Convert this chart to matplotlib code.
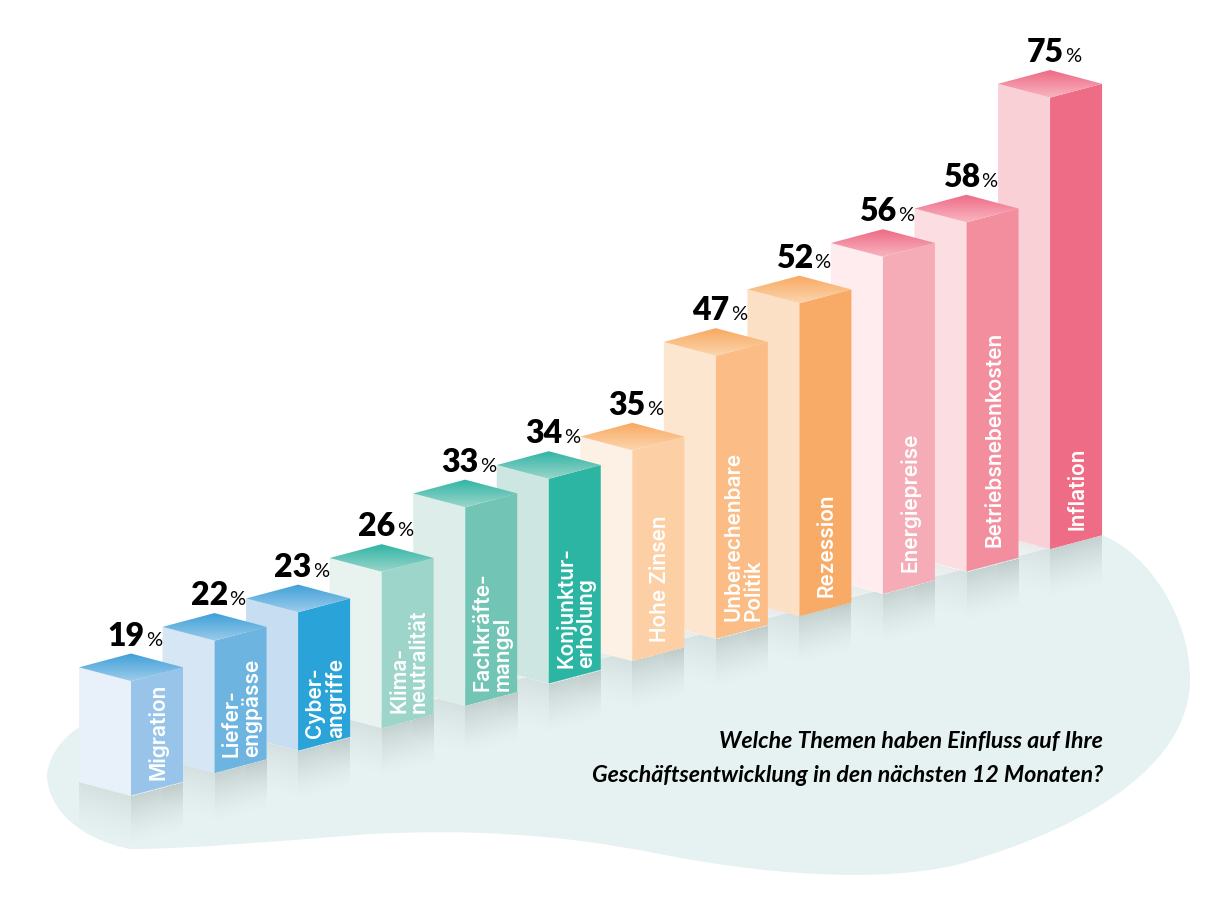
import numpy as np
import matplotlib
matplotlib.use("Agg")
import matplotlib.pyplot as plt
from matplotlib.colors import to_rgb
from matplotlib.patches import PathPatch, Polygon
from matplotlib.path import Path

# chart data, front to back
topics = ["Migration", "Liefer-\nengpässe", "Cyber-\nangriffe", "Klima-\nneutralität",
          "Fachkräfte-\nmangel", "Konjunktur-\nerholung", "Hohe Zinsen",
          "Unberechenbare\nPolitik", "Rezession", "Energiepreise",
          "Betriebsnebenkosten", "Inflation"]
values = [19, 22, 23, 26, 33, 34, 35, 47, 52, 56, 58, 75]
question = ["Welche Themen haben Einfluss auf Ihre",
            "Geschäftsentwicklung in den nächsten 12 Monaten?"]

# colours per bar
left_cols = ["#E8F0FA", "#D6E6F5", "#C6DDF2", "#E8F3F0", "#DDEEEA", "#CDE6E1",
             "#FDF1E6", "#FDE6CF", "#FCE0C6", "#FEECEE", "#FCDDE2", "#FAD0D7"]
right_cols = ["#97C4E8", "#6DB5E0", "#2AA3D9", "#9DD5CB", "#72C4B5", "#2DB5A4",
              "#FCCFA4", "#FBBC85", "#F8AB66", "#F6ACB6", "#F28E9E", "#EE6C85"]
top_dark = ["#3EA0D8"] * 3 + ["#2FB5A5"] * 3 + ["#F8A85F"] * 3 + ["#EE6A85"] * 3
top_light = ["#9CCBEB"] * 3 + ["#9AD5CA"] * 3 + ["#FCD5AE"] * 3 + ["#F8B5C0"] * 3

# layout in pixels
px_per_pct = 6.02
step_x, step_y = 83.55, 22.4
first_x, first_y = 131, 796.5
half_w, depth = 52, 13.8
mirror_len = 50
label_gap = [16, 17, 14, 16, 16, 16, 20, 19, 20, 23, 25, 20]

plt.rcParams["font.family"] = "Lato"

fig = plt.figure(figsize=(12.05, 9.03), dpi=100)
ax = fig.add_axes([0, 0, 1, 1])
ax.axis("off")


def gradient(poly, y0, y1, c0, c1, z=1):
    # vertical colour gradient clipped to a polygon
    t = np.linspace(0, 1, 64)[:, None]
    rgb = np.array(to_rgb(c0)) * (1 - t) + np.array(to_rgb(c1)) * t
    xs = [p[0] for p in poly]
    im = ax.imshow(rgb[:, None, :], extent=[min(xs), max(xs), y1, y0], aspect="auto",
                   zorder=z, interpolation="bilinear")
    im.set_clip_path(Polygon(poly, closed=True, transform=ax.transData))


def mirror(x0, y0, x1, y1, strength, z):
    # grey reflection under one face, fades with the distance to the bottom edge
    ys = np.arange(min(y0, y1), max(y0, y1) + mirror_len)
    xs = np.arange(x0, x1)
    gx, gy = np.meshgrid(xs, ys)
    edge = y0 + (y1 - y0) * (gx - x0) / (x1 - x0)
    d = (gy - edge) / mirror_len
    alpha = strength * np.clip(1 - d, 0, 1) ** 1.4
    alpha[d < 0] = 0
    img = np.zeros(alpha.shape + (4,))
    img[..., :3] = to_rgb("#8E9C9A")
    img[..., 3] = alpha
    ax.imshow(img, extent=[x0, x1, ys[-1], ys[0]], aspect="auto", zorder=z,
              interpolation="bilinear")


# background blob
blob = [(47, 775), (50, 755), (62, 740), (79, 728),
        (200, 720), (280, 722), (350, 722),
        (600, 660), (850, 600), (1102, 536),
        (1150, 555), (1190, 620), (1190, 680),
        (1190, 760), (1100, 825), (960, 865),
        (880, 885), (760, 875), (660, 855),
        (560, 835), (470, 830), (370, 835),
        (280, 842), (190, 850), (130, 850),
        (80, 840), (47, 810), (47, 775)]
codes = [Path.MOVETO] + [Path.CURVE4] * (len(blob) - 1)
ax.add_patch(PathPatch(Path(blob, codes), facecolor="#E5F2F1", edgecolor="none", zorder=0))

# bars, back ones first so the front ones overlap them
for i in range(len(values) - 1, -1, -1):
    z = 10 + (len(values) - i) * 5
    fx = first_x + i * step_x
    by = first_y - i * step_y
    ty = by - values[i] * px_per_pct
    lx, rx = fx - half_w, fx + half_w

    mirror(lx, by - depth, fx, by, 0.20, z)
    mirror(fx, by, rx, by - depth, 0.38, z)

    ax.add_patch(Polygon([(lx, ty - depth), (fx, ty), (fx, by), (lx, by - depth)],
                         facecolor=left_cols[i], edgecolor="none", zorder=z + 1))
    ax.add_patch(Polygon([(fx, ty), (rx, ty - depth), (rx, by - depth), (fx, by)],
                         facecolor=right_cols[i], edgecolor="none", zorder=z + 1))
    gradient([(lx, ty - depth), (fx, ty - 2 * depth), (rx, ty - depth), (fx, ty)],
             ty - 2 * depth, ty, top_dark[i], top_light[i], z=z + 2)

    ax.text(fx + half_w / 2 + 1.5, by - label_gap[i], topics[i], rotation=90,
            rotation_mode="anchor", ha="left", va="center", color="white",
            family="Inter", fontsize=15, fontweight=600,
            linespacing=0.98, multialignment="left", zorder=z + 3)

    # value above the bar
    ax.text(fx + 13.5, ty - 2 * depth - 9, str(values[i]), ha="right", va="baseline",
            fontsize=23, fontweight=800, color="black", zorder=100)
    ax.text(fx + 15, ty - 2 * depth - 9, "%", ha="left", va="baseline",
            fontsize=14.5, color="black", zorder=100)

ax.text(1103, 748, question[0], ha="right", va="baseline", fontsize=16.7,
        fontweight="bold", style="italic", color="black", zorder=100)
ax.text(1103, 782, question[1], ha="right", va="baseline", fontsize=16.7,
        fontweight="bold", style="italic", color="black", zorder=100)

ax.set_xlim(0, 1205)
ax.set_ylim(903, 0)
fig.savefig("out.png", dpi=100, facecolor="white")
